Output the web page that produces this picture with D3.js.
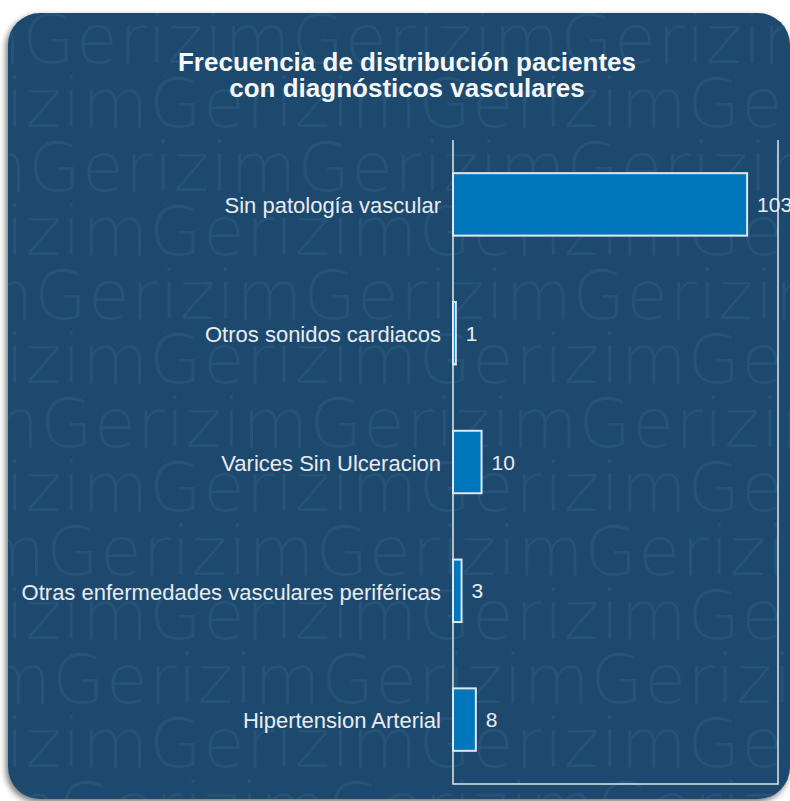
<!DOCTYPE html>
<html>
<head>
<meta charset="utf-8">
<script src="https://cdn.jsdelivr.net/npm/d3@7"></script>
<style>
  html, body { margin: 0; padding: 0; background: #ffffff; }
  svg { display: block; }
</style>
</head>
<body>
<div id="chart"></div>
<script>
const categories = ['Sin patología vascular', 'Otros sonidos cardiacos', 'Varices Sin Ulceracion',
  'Otras enfermedades vasculares periféricas', 'Hipertension Arterial']
const values = [103, 1, 10, 3, 8]
const titleLines = ['Frecuencia de distribución pacientes', 'con diagnósticos vasculares']
const watermarkWord = 'Gerizim'

const WIDTH = 790
const HEIGHT = 801
const PANEL_COLOR = '#1e4a6d'
const WATERMARK_COLOR = '#25537a'
const BAR_FILL_COLOR = '#0077bd'
const BAR_STROKE_COLOR = '#dfe6ec'
const TEXT_COLOR = '#e9ecef'
const FONT = 'Arial, "Liberation Sans", sans-serif'

var svg = d3.select('#chart').append('svg')
  .attr('width', WIDTH)
  .attr('height', HEIGHT)

var defs = svg.append('defs')
var shadow = defs.append('filter').attr('id', 'shadow')
  .attr('x', '-5%').attr('y', '-5%').attr('width', '115%').attr('height', '115%')
shadow.append('feDropShadow')
  .attr('dx', -2).attr('dy', 3).attr('stdDeviation', 3)
  .attr('flood-color', '#000').attr('flood-opacity', 0.55)

var panel = { x: 8, y: 13, w: 782, h: 786, r: 32 }
defs.append('clipPath').attr('id', 'panel-clip')
  .append('rect')
  .attr('x', panel.x).attr('y', panel.y)
  .attr('width', panel.w).attr('height', panel.h)
  .attr('rx', panel.r)

// Panel background
svg.append('rect')
  .attr('x', panel.x).attr('y', panel.y)
  .attr('width', panel.w).attr('height', panel.h)
  .attr('rx', panel.r)
  .attr('fill', PANEL_COLOR)
  .attr('filter', 'url(#shadow)')

// Watermark rows (background pattern)
var wm = svg.append('g').attr('clip-path', 'url(#panel-clip)')
  .attr('aria-hidden', 'true')
for (let i = 0; i < 13; i++) {
  const offset = i % 2 === 0 ? 45 + i * 3 : 172
  wm.append('text')
    .attr('x', offset - 292)
    .attr('y', 63 + i * 64)
    .attr('font-family', '"DejaVu Sans", sans-serif')
    .attr('font-weight', 200)
    .attr('font-size', 68)
    .attr('letter-spacing', 1)
    .attr('fill', WATERMARK_COLOR)
    .text(watermarkWord.repeat(5))
}

// Title
var title = svg.append('text')
  .attr('x', 407)
  .attr('y', 71)
  .attr('text-anchor', 'middle')
  .attr('font-family', FONT)
  .attr('font-weight', 'bold')
  .attr('font-size', 26)
  .attr('fill', '#f5f7f9')
titleLines.forEach((line, i) => {
  title.append('tspan')
    .attr('x', 407)
    .attr('dy', i === 0 ? 0 : 26)
    .text(line)
})

// Scales
var margin = { top: 140, right: 12, bottom: 17, left: 453 }
var xScale = d3.scaleLinear()
  .domain([0, d3.max(values) * 1.105])
  .range([margin.left, 778])
var yScale = d3.scaleBand()
  .domain(categories)
  .range([margin.top, HEIGHT - margin.bottom])
  .paddingInner(0.515)
  .paddingOuter(0.2575)

// Frame: left, bottom, right lines
var x0 = xScale.range()[0]
var x1 = xScale.range()[1]
var y0 = yScale.range()[0]
var y1 = yScale.range()[1]
svg.append('path')
  .attr('d', 'M' + x0 + ',' + y0 + 'V' + y1 + 'H' + x1 + 'V' + y0)
  .attr('fill', 'none')
  .attr('stroke', BAR_STROKE_COLOR)
  .attr('stroke-width', 1.5)

// Category labels
svg.append('g')
  .attr('transform', 'translate(' + x0 + ',0)')
  .call(d3.axisLeft(yScale).tickSize(0).tickPadding(12))
  .call(g => g.select('.domain').remove())
  .selectAll('text')
  .attr('font-family', FONT)
  .attr('font-size', 22)
  .attr('fill', TEXT_COLOR)
  .attr('dy', '0.4em')

// Bars
var bars = svg.append('g').attr('id', 'bars')
for (let i = 0; i < values.length; i++) {
  bars.append('rect')
    .attr('x', xScale(0))
    .attr('y', yScale(categories[i]))
    .attr('width', xScale(values[i]) - xScale(0))
    .attr('height', yScale.bandwidth())
    .attr('fill', BAR_FILL_COLOR)
    .attr('stroke', BAR_STROKE_COLOR)
    .attr('stroke-width', 2)
  bars.append('text')
    .attr('x', xScale(values[i]) + 10)
    .attr('y', yScale(categories[i]) + yScale.bandwidth() / 2)
    .attr('dy', '0.36em')
    .attr('font-family', FONT)
    .attr('font-size', 21)
    .attr('fill', TEXT_COLOR)
    .text(values[i])
}
</script>
</body>
</html>
